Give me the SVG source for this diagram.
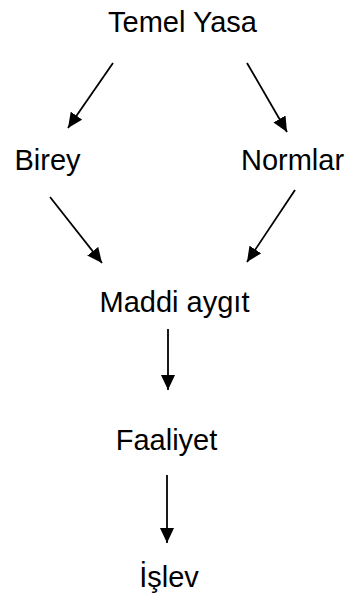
<svg xmlns="http://www.w3.org/2000/svg" width="349" height="598" viewBox="0 0 349 598">
<style>
.t{font-family:"Liberation Sans",Arial,sans-serif;font-size:29px;fill:#000;text-anchor:middle}
.c{stroke:#000;stroke-width:1.8;fill:none;marker-end:url(#ah)}
</style>
<defs>
<marker id="ah" markerUnits="userSpaceOnUse" markerWidth="16" markerHeight="14" refX="15" refY="7" orient="auto" viewBox="0 0 16 14">
<path d="M0,0 L15,7 L0,14 Z" fill="#000"/>
</marker>
</defs>
<rect width="349" height="598" fill="#fff"/>
<g id="connectors">
<line class="c" x1="113" y1="63" x2="68" y2="128"/>
<line class="c" x1="247" y1="63" x2="287" y2="132"/>
<line class="c" x1="50" y1="197" x2="102" y2="263"/>
<line class="c" x1="295" y1="190" x2="247" y2="262"/>
<line class="c" x1="168" y1="329" x2="168" y2="390"/>
<line class="c" x1="167" y1="475" x2="167" y2="543"/>
</g>
<g id="temel-yasa"><text class="t" x="182.5" y="32">Temel Yasa</text></g>
<g id="birey"><text class="t" x="47.5" y="170">Birey</text></g>
<g id="normlar"><text class="t" x="292.5" y="170">Normlar</text></g>
<g id="maddi-aygit"><text class="t" x="174.5" y="312">Maddi aygıt</text></g>
<g id="faaliyet"><text class="t" x="166.5" y="450">Faaliyet</text></g>
<g id="islev"><text class="t" x="169" y="587">İşlev</text></g>
</svg>
